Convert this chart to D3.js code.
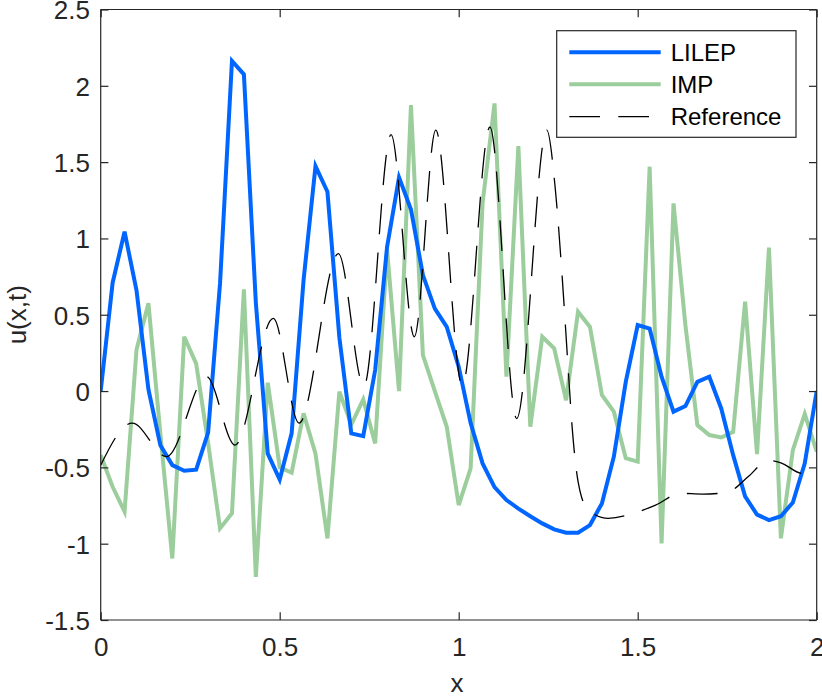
<!DOCTYPE html>
<html>
<head>
<meta charset="utf-8">
<script src="https://cdn.jsdelivr.net/npm/d3@7"></script>
<style>
  html, body { margin: 0; padding: 0; background: #fff; }
  svg { display: block; font-family: "Liberation Sans", Arial, Helvetica, sans-serif; }
</style>
</head>
<body>
<svg id="chart" width="822" height="697"></svg>
<script>
// ---------------- data ----------------
const nPoints = 61;           // grid x = 0, 1/30, ..., 2
const xMax = 2;
const lilep = [0, 0.71, 1.044, 0.66, 0.01, -0.355, -0.485, -0.522, -0.515, -0.273,
  0.705, 2.163, 2.075, 0.58, -0.41, -0.58, -0.277, 0.727, 1.474, 1.306,
  0.35, -0.277, -0.295, 0.138, 0.946, 1.40, 1.19, 0.76, 0.54, 0.42,
  0.16, -0.21, -0.474, -0.63, -0.714, -0.77, -0.82, -0.867, -0.906, -0.928,
  -0.928, -0.878, -0.736, -0.43, 0.06, 0.432, 0.41, 0.094, -0.135, -0.098,
  0.06, 0.094, -0.114, -0.42, -0.69, -0.81, -0.845, -0.82, -0.73, -0.474, 0];
const imp = [-0.42, -0.627, -0.79, 0.27, 0.575, -0.28, -1.097, 0.356, 0.18, -0.34,
  -0.90, -0.80, 0.666, -1.217, 0.055, -0.5, -0.535, -0.146, -0.41, -0.965,
  -0.004, -0.22, -0.055, -0.343, 0.924, 0.0, 1.874, 0.236, 0.0, -0.234,
  -0.747, -0.507, 1.23, 1.885, 0.094, 1.605, -0.234, 0.356, 0.28, -0.06,
  0.52, 0.42, -0.026, -0.135, -0.44, -0.463, 1.47, -0.998, 1.23, 0.43,
  -0.223, -0.288, -0.304, -0.267, 0.585, -0.413, 0.94, -0.965, -0.387, -0.15, -0.397];
const refX = [0, 0.088, 0.184, 0.296, 0.375, 0.482, 0.554, 0.664, 0.735, 0.811,
  0.876, 0.936, 1.010, 1.087, 1.162, 1.246, 1.27, 1.289, 1.306, 1.316,
  1.334, 1.362, 1.418, 1.49, 1.55, 1.62, 1.68, 1.73, 1.763, 1.809,
  1.865, 1.90, 1.96, 2.0];
const refY = [-0.485, -0.21, -0.43, 0.094, -0.354, 0.476, -0.21, 0.90, 0.03, 1.68,
  0.356, 1.71, 0.035, 1.73, -0.18, 1.71, 1.32, 0.75, 0.14, -0.21,
  -0.6, -0.78, -0.834, -0.80, -0.747, -0.67, -0.675, -0.67, -0.65, -0.56,
  -0.455, -0.47, -0.54, -0.5];
const xTicks = [0, 0.5, 1, 1.5, 2];
const yTicks = [-1.5, -1, -0.5, 0, 0.5, 1, 1.5, 2, 2.5];
const seriesNames = ["LILEP", "IMP", "Reference"];

// ---------------- layout ----------------
const L = 100.7, R = 816.7, T = 9.5, B = 620;
const axisColor = "#262626";
const colors = { LILEP: "#0066ff", IMP: "#9ccd9c", Reference: "#000000" };
const dashRef = "30.7,18.3";

const svg = d3.select("#chart");
const x = d3.scaleLinear().domain([0, xMax]).range([L, R]);
const y = d3.scaleLinear().domain([-1.5, 2.5]).range([B, T]);

const xGrid = d3.range(nPoints).map(i => i * xMax / (nPoints - 1));

svg.append("defs").append("clipPath").attr("id", "clip")
  .append("rect").attr("x", L).attr("y", T).attr("width", R - L).attr("height", B - T);

const line = d3.line().x(d => x(d[0])).y(d => y(d[1]));
const plot = svg.append("g").attr("clip-path", "url(#clip)");

plot.append("path")
  .datum(xGrid.map((xv, i) => [xv, imp[i]]))
  .attr("d", line).attr("fill", "none")
  .attr("stroke", colors.IMP).attr("stroke-width", 4);

plot.append("path")
  .datum(xGrid.map((xv, i) => [xv, lilep[i]]))
  .attr("d", line).attr("fill", "none")
  .attr("stroke", colors.LILEP).attr("stroke-width", 4);

plot.append("path")
  .datum(refX.map((xv, i) => [xv, refY[i]]))
  .attr("d", d3.line().x(d => x(d[0])).y(d => y(d[1])).curve(d3.curveMonotoneX))
  .attr("fill", "none")
  .attr("stroke", colors.Reference).attr("stroke-width", 1.3)
  .attr("stroke-dasharray", dashRef);

// ---------------- axes (box with inner ticks) ----------------
const tickLen = 7.7;
const fmt = d => String(d);

const gB = svg.append("g").attr("transform", `translate(0,${B})`)
  .call(d3.axisBottom(x).tickValues(xTicks).tickSize(-tickLen).tickPadding(14).tickFormat(fmt));
const gTop = svg.append("g").attr("transform", `translate(0,${T})`)
  .call(d3.axisTop(x).tickValues(xTicks).tickSize(-tickLen).tickFormat(""));
const gLeft = svg.append("g").attr("transform", `translate(${L},0)`)
  .call(d3.axisLeft(y).tickValues(yTicks).tickSize(-tickLen).tickPadding(10).tickFormat(fmt));
const gRight = svg.append("g").attr("transform", `translate(${R},0)`)
  .call(d3.axisRight(y).tickValues(yTicks).tickSize(-tickLen).tickFormat(""));

[gB, gTop, gLeft, gRight].forEach(g => {
  g.select(".domain").attr("stroke", axisColor).attr("stroke-width", 1.2);
  g.selectAll(".tick line").attr("stroke", axisColor).attr("stroke-width", 1.2);
  g.selectAll(".tick text").attr("fill", axisColor).style("font-size", "26px")
    .style("font-family", '"Liberation Sans", Arial, sans-serif');
});
gB.selectAll(".tick text").attr("dy", null).attr("y", 36);
gLeft.selectAll(".tick text").attr("x", -10.7).attr("dy", "0.36em");

// hide axis end stubs (outer ticks) by drawing domain as straight lines
[gB, gTop].forEach(g => g.select(".domain").attr("d", `M${L},0H${R}`));
[gLeft, gRight].forEach(g => g.select(".domain").attr("d", `M0,${T}V${B}`));

// axis labels
svg.append("text").attr("x", 457).attr("y", 692).attr("text-anchor", "middle")
  .attr("fill", axisColor).style("font-size", "26px").text("x");
svg.append("text").attr("transform", `translate(26,${(T + B) / 2}) rotate(-90)`)
  .attr("text-anchor", "middle").attr("fill", axisColor).style("font-size", "26px").text("u(x,t)");

// ---------------- legend ----------------
const lg = svg.append("g");
lg.append("rect").attr("x", 556.7).attr("y", 30.7).attr("width", 239.3).attr("height", 106.6)
  .attr("fill", "#fff").attr("stroke", axisColor).attr("stroke-width", 1.2);
const legY = [52.3, 84.3, 116.7];
seriesNames.forEach((name, i) => {
  lg.append("line").attr("x1", 569.3).attr("x2", 660.7).attr("y1", legY[i]).attr("y2", legY[i])
    .attr("stroke", colors[name]).attr("stroke-width", name === "Reference" ? 1.3 : 4)
    .attr("stroke-dasharray", name === "Reference" ? dashRef : null);
  lg.append("text").attr("x", 670.7).attr("y", legY[i]).attr("dy", "0.36em")
    .attr("fill", "#000").style("font-size", "24px").text(name);
});
</script>
</body>
</html>
